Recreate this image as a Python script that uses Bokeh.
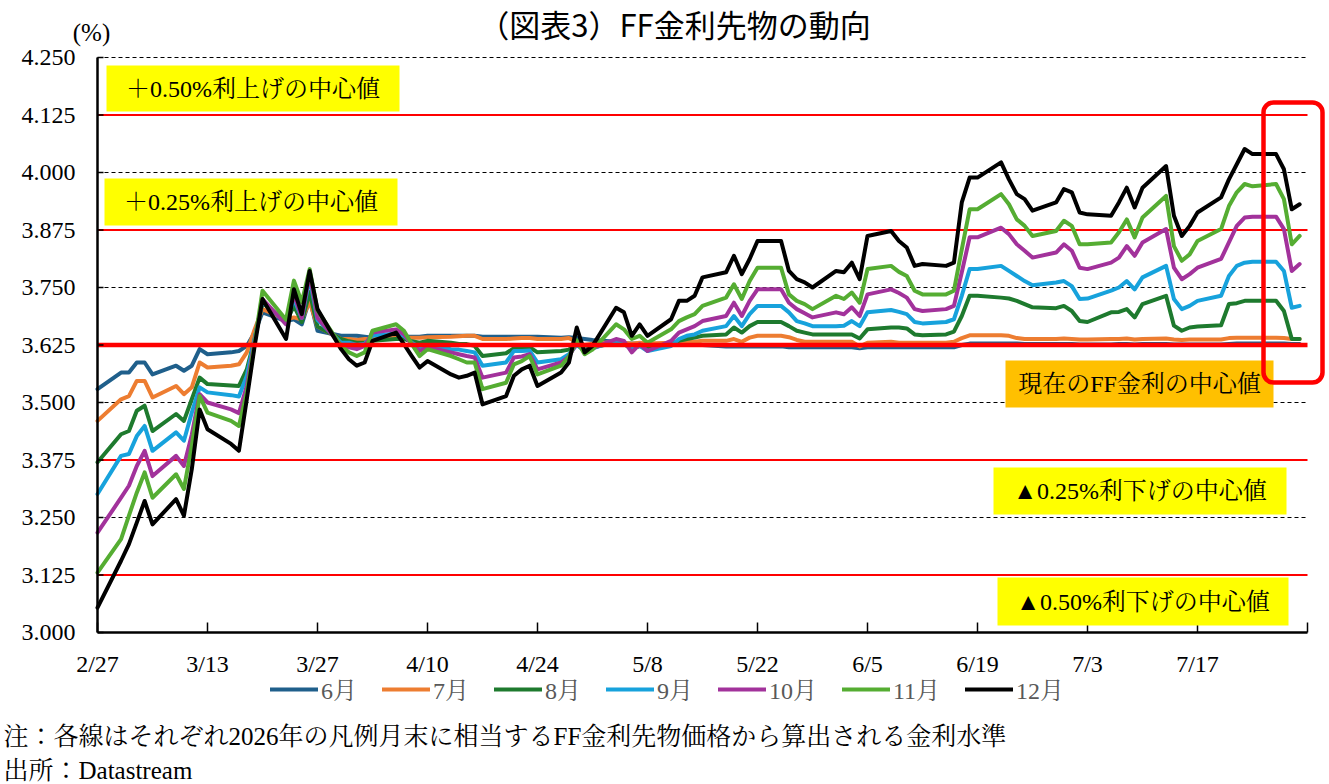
import pandas as pd
from bokeh.plotting import figure
from bokeh.models import Range1d, Label, BoxAnnotation, Legend, LegendItem
from bokeh.core.properties import value
from bokeh.embed import file_html
from bokeh.resources import INLINE

# ---------------- data ----------------
start_date = "2026-02-27"
end_date = "2026-07-30"

s6 = [3.529,
      3.565, 3.565, 3.587, 3.587, 3.561,
      3.580, 3.569, 3.580, 3.616, 3.605,
      3.609, 3.612, 3.623, 3.652, 3.696,
      3.677, 3.681, 3.670, 3.725, 3.656,
      3.645, 3.645, 3.645, 3.643, 3.641,
      3.643, 3.643, 3.643, 3.643, 3.645,
      3.645, 3.645, 3.645, 3.645, 3.643,
      3.643, 3.643, 3.643, 3.643, 3.643,
      3.641, 3.642, 3.640, 3.638, 3.636,
      3.632, 3.628, 3.628, 3.628, 3.628,
      3.625, 3.625, 3.625, 3.625, 3.625,
      3.622, 3.622, 3.622, 3.622, 3.622,
      3.622, 3.620, 3.620, 3.620, 3.620,
      3.620, 3.620, 3.620, 3.618, 3.620,
      3.620, 3.620, 3.620, 3.620, 3.620,
      3.620, 3.620, 3.625, 3.628, 3.628,
      3.628, 3.628, 3.628, 3.627, 3.627,
      3.627, 3.627, 3.627, 3.626, 3.626,
      3.626, 3.627, 3.627, 3.626, 3.627,
      3.627, 3.626, 3.626, 3.626, 3.626,
      3.626, 3.627, 3.628, 3.628, 3.628,
      3.628, 3.628, 3.627, 3.627]

s7 = [3.460,
      3.507, 3.514, 3.547, 3.547, 3.511,
      3.536, 3.518, 3.533, 3.587, 3.576,
      3.580, 3.583, 3.609, 3.659, 3.703,
      3.680, 3.685, 3.680, 3.720, 3.665,
      3.638, 3.638, 3.636, 3.638, 3.638,
      3.640, 3.641, 3.641, 3.641, 3.642,
      3.643, 3.644, 3.645, 3.645, 3.638,
      3.638, 3.639, 3.640, 3.640, 3.638,
      3.638, 3.640, 3.632, 3.625, 3.628,
      3.632, 3.630, 3.628, 3.630, 3.628,
      3.630, 3.632, 3.632, 3.632, 3.634,
      3.634, 3.638, 3.632, 3.641, 3.645,
      3.645, 3.642, 3.636, 3.632, 3.632,
      3.632, 3.632, 3.632, 3.622, 3.630,
      3.632, 3.630, 3.630, 3.630, 3.630,
      3.630, 3.632, 3.640, 3.646, 3.646,
      3.646, 3.645, 3.640, 3.638, 3.638,
      3.638, 3.639, 3.638, 3.637, 3.637,
      3.638, 3.638, 3.639, 3.637, 3.638,
      3.639, 3.637, 3.636, 3.637, 3.637,
      3.637, 3.640, 3.641, 3.641, 3.641,
      3.641, 3.640, 3.638, 3.638]

s8 = [3.370,
      3.431, 3.438, 3.482, 3.493, 3.438,
      3.475, 3.460, 3.507, 3.554, 3.540,
      3.537, 3.536, 3.572, 3.638, 3.717,
      3.675, 3.710, 3.675, 3.740, 3.665,
      3.638, 3.633, 3.630, 3.630, 3.634,
      3.638, 3.638, 3.633, 3.630, 3.634,
      3.630, 3.627, 3.627, 3.623, 3.601,
      3.607, 3.618, 3.618, 3.620, 3.609,
      3.612, 3.615, 3.625, 3.615, 3.620,
      3.630, 3.627, 3.616, 3.623, 3.620,
      3.627, 3.634, 3.638, 3.641, 3.645,
      3.648, 3.663, 3.652, 3.666, 3.675,
      3.675, 3.666, 3.656, 3.652, 3.648,
      3.648, 3.648, 3.648, 3.639, 3.659,
      3.663, 3.663, 3.661, 3.648, 3.646,
      3.648, 3.654, 3.688, 3.732, 3.732,
      3.728, 3.726, 3.721, 3.714, 3.707,
      3.705, 3.710, 3.699, 3.677, 3.675,
      3.696, 3.697, 3.703, 3.685, 3.714,
      3.732, 3.667, 3.656, 3.663, 3.665,
      3.668, 3.714, 3.716, 3.721, 3.721,
      3.721, 3.699, 3.638, 3.638]

s9 = [3.301,
      3.384, 3.388, 3.427, 3.449, 3.395,
      3.435, 3.417, 3.478, 3.533, 3.522,
      3.516, 3.513, 3.558, 3.640, 3.720,
      3.672, 3.725, 3.684, 3.770, 3.680,
      3.630, 3.630, 3.625, 3.628, 3.645,
      3.650, 3.645, 3.630, 3.620, 3.623,
      3.616, 3.615, 3.612, 3.609, 3.580,
      3.587, 3.612, 3.612, 3.613, 3.587,
      3.594, 3.605, 3.625, 3.612, 3.618,
      3.634, 3.630, 3.616, 3.623, 3.612,
      3.623, 3.638, 3.645, 3.648, 3.656,
      3.666, 3.688, 3.666, 3.692, 3.710,
      3.710, 3.696, 3.677, 3.672, 3.666,
      3.666, 3.667, 3.677, 3.666, 3.696,
      3.701, 3.697, 3.692, 3.675, 3.672,
      3.675, 3.681, 3.732, 3.790, 3.790,
      3.797, 3.786, 3.775, 3.764, 3.755,
      3.761, 3.764, 3.753, 3.725, 3.726,
      3.743, 3.750, 3.764, 3.746, 3.772,
      3.797, 3.725, 3.703, 3.710, 3.721,
      3.732, 3.775, 3.797, 3.804, 3.806,
      3.806, 3.786, 3.706, 3.710]

s10 = [3.217,
       3.293, 3.319, 3.362, 3.395, 3.340,
       3.384, 3.362, 3.430, 3.518, 3.500,
       3.485, 3.477, 3.536, 3.635, 3.725,
       3.670, 3.735, 3.684, 3.780, 3.684,
       3.625, 3.620, 3.616, 3.623, 3.652,
       3.659, 3.648, 3.627, 3.612, 3.620,
       3.609, 3.605, 3.601, 3.598, 3.554,
       3.565, 3.598, 3.600, 3.605, 3.572,
       3.587, 3.600, 3.630, 3.612, 3.618,
       3.638, 3.634, 3.609, 3.627, 3.612,
       3.634, 3.652, 3.659, 3.666, 3.677,
       3.688, 3.717, 3.688, 3.721, 3.746,
       3.746, 3.717, 3.703, 3.694, 3.685,
       3.696, 3.692, 3.707, 3.688, 3.735,
       3.746, 3.738, 3.728, 3.703, 3.699,
       3.703, 3.710, 3.783, 3.859, 3.859,
       3.880, 3.866, 3.844, 3.830, 3.815,
       3.826, 3.844, 3.830, 3.793, 3.790,
       3.804, 3.815, 3.840, 3.819, 3.848,
       3.877, 3.793, 3.768, 3.779, 3.793,
       3.812, 3.848, 3.884, 3.902, 3.904,
       3.904, 3.877, 3.786, 3.801]

s11 = [3.130,
       3.203, 3.254, 3.304, 3.348, 3.293,
       3.344, 3.312, 3.406, 3.514, 3.478,
       3.460, 3.449, 3.522, 3.630, 3.743,
       3.680, 3.765, 3.718, 3.790, 3.700,
       3.623, 3.609, 3.601, 3.609, 3.656,
       3.670, 3.656, 3.627, 3.601, 3.616,
       3.601, 3.594, 3.587, 3.587, 3.529,
       3.543, 3.583, 3.590, 3.601, 3.561,
       3.580, 3.600, 3.635, 3.605, 3.615,
       3.670, 3.659, 3.638, 3.645, 3.630,
       3.659, 3.677, 3.685, 3.692, 3.710,
       3.728, 3.757, 3.725, 3.764, 3.793,
       3.793, 3.735, 3.721, 3.714, 3.703,
       3.732, 3.725, 3.739, 3.717, 3.790,
       3.797, 3.784, 3.775, 3.743, 3.735,
       3.735, 3.743, 3.833, 3.920, 3.920,
       3.953, 3.931, 3.898, 3.884, 3.862,
       3.873, 3.895, 3.884, 3.844, 3.844,
       3.848, 3.870, 3.898, 3.859, 3.902,
       3.949, 3.840, 3.808, 3.822, 3.851,
       3.877, 3.927, 3.957, 3.975, 3.970,
       3.975, 3.942, 3.844, 3.862]

s12 = [3.054,
       3.156, 3.192, 3.239, 3.286, 3.235,
       3.290, 3.254, 3.355, 3.485, 3.442,
       3.410, 3.395, 3.507, 3.623, 3.725,
       3.638, 3.746, 3.692, 3.786, 3.703,
       3.616, 3.594, 3.580, 3.587, 3.634,
       3.652, 3.627, 3.601, 3.576, 3.590,
       3.561, 3.554, 3.558, 3.565, 3.496,
       3.514, 3.558, 3.572, 3.580, 3.536,
       3.565, 3.587, 3.663, 3.609, 3.623,
       3.706, 3.696, 3.645, 3.670, 3.645,
       3.681, 3.721, 3.721, 3.732, 3.772,
       3.783, 3.819, 3.779, 3.812, 3.851,
       3.851, 3.786, 3.768, 3.761, 3.750,
       3.786, 3.783, 3.804, 3.768, 3.862,
       3.873, 3.851, 3.837, 3.797, 3.801,
       3.797, 3.804, 3.935, 3.989, 3.989,
       4.022, 3.985, 3.953, 3.942, 3.917,
       3.935, 3.964, 3.957, 3.913, 3.909,
       3.906, 3.935, 3.967, 3.924, 3.967,
       4.014, 3.906, 3.862, 3.884, 3.913,
       3.946, 3.985, 4.018, 4.051, 4.040,
       4.040, 4.007, 3.920, 3.931]

series_names = ["6月", "7月", "8月", "9月", "10月", "11月", "12月"]
series_values = [s6, s7, s8, s9, s10, s11, s12]
series_colors = ["#1F5F8B", "#ED7D31", "#1E7A2E", "#17A2DC", "#A2329B", "#55AD32", "#000000"]

tick_days = [0, 14, 28, 42, 56, 70, 84, 98, 112, 126, 140, 154]
tick_labels = ["2/27", "3/13", "3/27", "4/10", "4/24", "5/8", "5/22", "6/5",
               "6/19", "7/3", "7/17", ""]
y_ticks = [3.000, 3.125, 3.250, 3.375, 3.500, 3.625, 3.750, 3.875, 4.000, 4.125, 4.250]
y_tick_labels = ["3.000", "3.125", "3.250", "3.375", "3.500", "3.625", "3.750",
                 "3.875", "4.000", "4.125", "4.250"]
dashed_levels = [3.250, 3.500, 3.750, 4.000, 4.250]
red_levels = [3.125, 3.375, 3.875, 4.125]
current_level = 3.625

box_texts = ["＋0.50%利上げの中心値", "＋0.25%利上げの中心値", "現在のFF金利の中心値",
             "▲0.25%利下げの中心値", "▲0.50%利下げの中心値"]

title_text = "（図表3）FF金利先物の動向"
unit_text = "(%)"
note_text = "注：各線はそれぞれ2026年の凡例月末に相当するFF金利先物価格から算出される金利水準"
source_text = "出所：Datastream"

dates = pd.bdate_range(start_date, end_date)
days = list((dates - pd.Timestamp(start_date)).days)

# ---------------- layout helpers (pixels -> data) ----------------
W, H = 1329, 784
X0 = 97              # pixel of day 0
PXD = 110 / 14       # pixels per day
Y3 = 632             # pixel of 3.000
PXU = 460            # pixels per 1.0


def dx(px):
    return (px - X0) / PXD


def vy(py):
    return 3.0 + (Y3 - py) / PXU


SERIF = "'Liberation Serif', 'Noto Serif CJK JP', 'Noto Sans CJK JP'"
GOTHIC = "'Noto Sans CJK JP'"

# the frame covers the whole canvas, so nothing outside is clipped
p = figure(width=W, height=H, output_backend="svg", toolbar_location=None,
           x_range=Range1d(dx(0), dx(W)), y_range=Range1d(vy(H), vy(0)),
           min_border=0, x_axis_location=None, y_axis_location=None)
p.title.visible = False
p.outline_line_color = None
p.background_fill_color = "white"
p.border_fill_color = "white"
p.xgrid.visible = False
p.ygrid.visible = False

x_end = tick_days[-1]
y_top = y_ticks[-1]

# gridlines
p.segment(x0=[0] * len(dashed_levels), x1=[x_end] * len(dashed_levels),
          y0=dashed_levels, y1=dashed_levels, line_color="black", line_width=1,
          line_dash="4 3")
p.segment(x0=[0] * len(red_levels), x1=[x_end] * len(red_levels),
          y0=red_levels, y1=red_levels, line_color="#FF0000", line_width=2)

# series
renderers = []
for name, vals, col in zip(series_names, series_values, series_colors):
    r = p.line(days, vals, line_color=col, line_width=4, line_join="round", line_cap="round")
    renderers.append(r)

# current rate centre line on top
p.segment(x0=[0], x1=[x_end], y0=[current_level], y1=[current_level],
          line_color="#FF0000", line_width=4.5)

# y axis
p.segment(x0=[0], x1=[0], y0=[y_ticks[0]], y1=[y_top], line_color="black", line_width=2.5)
p.segment(x0=[0] * len(y_ticks), x1=[dx(X0 + 6)] * len(y_ticks), y0=y_ticks, y1=y_ticks,
          line_color="black", line_width=1.5)
p.text(x=[dx(75)] * len(y_ticks), y=y_ticks, text=y_tick_labels, text_align="right",
       text_baseline="middle", text_font=value(SERIF), text_font_size="24px",
       text_color="black")

# x axis
p.segment(x0=[0], x1=[x_end], y0=[y_ticks[0]], y1=[y_ticks[0]], line_color="black",
          line_width=2.5)
p.segment(x0=tick_days, x1=tick_days, y0=[y_ticks[0]] * len(tick_days),
          y1=[vy(Y3 - 10)] * len(tick_days), line_color="black", line_width=1.5)
p.text(x=tick_days, y=[vy(663)] * len(tick_days), text=tick_labels, text_align="center",
       text_baseline="middle", text_font=value(SERIF), text_font_size="24px",
       text_color="black")

# annotation boxes
boxes = [(106, 399, 65, 111, "#FFFF00"),
         (104, 397, 178, 225, "#FFFF00"),
         (1005, 1273, 360, 407, "#FFC000"),
         (993, 1286, 467, 514, "#FFFF00"),
         (997, 1288, 577, 625, "#FFFF00")]
for (l, r_, t, b, c), txt in zip(boxes, box_texts):
    p.add_layout(BoxAnnotation(left=dx(l), right=dx(r_), top=vy(t), bottom=vy(b),
                               fill_color=c, fill_alpha=1, line_color=None, level="glyph"))
    p.add_layout(Label(x=dx((l + r_) / 2), y=vy((t + b) / 2), text=txt,
                       text_align="center", text_baseline="middle",
                       text_font=SERIF, text_font_size="24px", text_color="black"))

# red rounded highlight rectangle
p.add_layout(BoxAnnotation(left=dx(1263), right=dx(1322), top=vy(102), bottom=vy(382),
                           fill_color=None, fill_alpha=0, line_color="#FF0000",
                           line_alpha=1, line_width=4.5, border_radius=10))

# texts around the chart
p.add_layout(Label(x=dx(674), y=vy(23), text=title_text, text_align="center",
                   text_baseline="middle", text_font=GOTHIC, text_font_size="31px",
                   text_color="black"))
p.add_layout(Label(x=dx(91), y=vy(32), text=unit_text, text_align="center",
                   text_baseline="middle", text_font=SERIF, text_font_size="25px",
                   text_color="black"))
p.add_layout(Label(x=dx(3), y=vy(736), text=note_text, text_align="left",
                   text_baseline="middle", text_font=SERIF, text_font_size="25px",
                   text_color="black"))
p.add_layout(Label(x=dx(3), y=vy(770), text=source_text, text_align="left",
                   text_baseline="middle", text_font=SERIF, text_font_size="25px",
                   text_color="black"))

legend = Legend(items=[LegendItem(label=n, renderers=[r]) for n, r in zip(series_names, renderers)],
                orientation="horizontal", location=(270, H - 706),
                glyph_width=48, glyph_height=20, label_standoff=3, spacing=25,
                padding=0, margin=0, border_line_color=None, background_fill_alpha=0,
                label_text_color="#595959", label_text_font=SERIF,
                label_text_font_size="24px", label_height=20)
p.add_layout(legend)

open("out.html", "w").write(file_html(p, INLINE))
